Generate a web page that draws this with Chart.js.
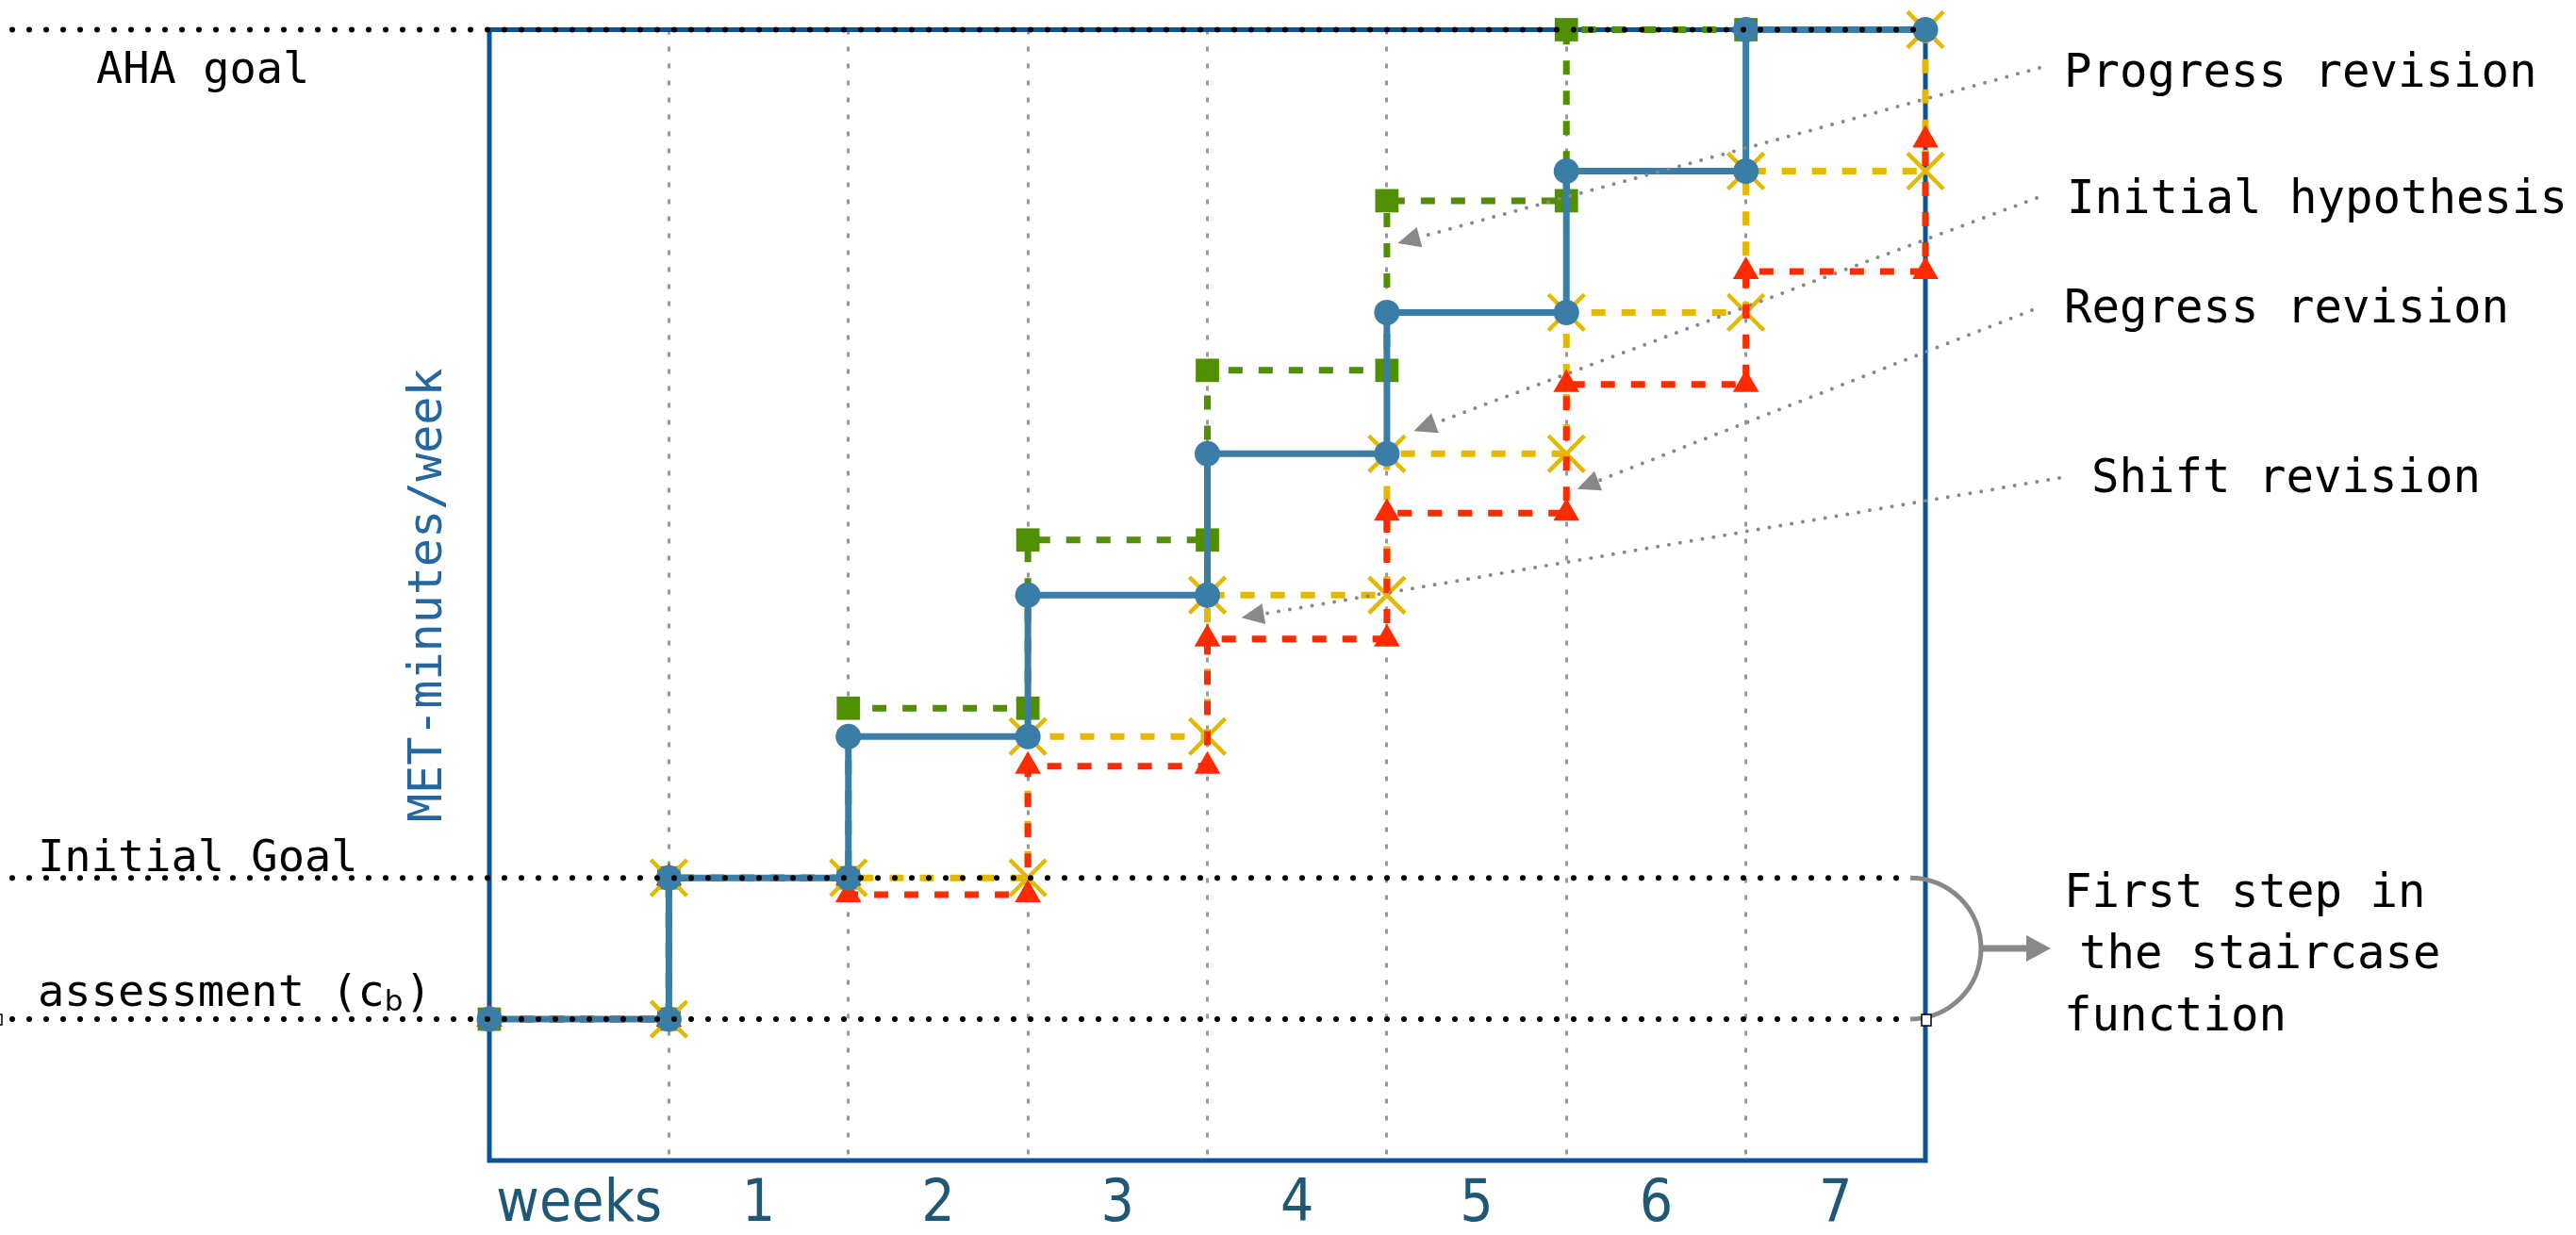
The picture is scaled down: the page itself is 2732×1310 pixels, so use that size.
<!DOCTYPE html>
<html>
<head>
<meta charset="utf-8">
<script src="https://cdn.jsdelivr.net/npm/chart.js@4.4.1/dist/chart.umd.min.js"></script>
<style>
  html, body { margin: 0; padding: 0; background: #fff; }
  canvas { display: block; }
</style>
</head>
<body>
<canvas id="stairChart" width="2732" height="1310"></canvas>
<script>
// x tick labels, one per week band
const weekLabels = ['weeks', '1', '2', '3', '4', '5', '6', '7'];

// step corners of each staircase (week, MET level)
const initialX = [0, 1, 1, 2, 2, 3, 3, 4, 4, 5, 5, 6, 6, 7, 7, 8];
const initialY = [1, 1, 2, 2, 3, 3, 4, 4, 5, 5, 6, 6, 7, 7, 8, 8];

const progressX = [0, 1, 1, 2, 2, 3, 3, 4, 4, 5, 5, 6, 6, 7];
const progressY = [1, 1, 2, 2, 3.2, 3.2, 4.39, 4.39, 5.59, 5.59, 6.79, 6.79, 8, 8];

const shiftX = [1, 1, 2, 3, 3, 4, 4, 5, 5, 6, 6, 7, 7, 8, 8];
const shiftY = [1, 2, 2, 2, 3, 3, 4, 4, 5, 5, 6, 6, 7, 7, 8];

const regressX = [0, 1, 1, 2, 2, 3, 3, 4, 4, 5, 5, 6, 6, 7, 7, 8, 8];
const regressY = [1, 1, 2, 2, 1.88, 1.88, 2.79, 2.79, 3.69, 3.69, 4.58, 4.58, 5.49, 5.49, 6.29, 6.29, 7.22];

// reference levels (dotted black lines) and their labels
const refLevels = [8, 2, 1];
const refLabels = ['AHA goal', 'Initial Goal', 'assessment (c'];

const yTitle = 'MET-minutes/week';
const calloutLabels = ['Progress revision', 'Initial hypothesis', 'Regress revision', 'Shift revision'];
const bracketLines = ['First step in', 'the staircase', 'function'];

const pts = (xs, ys) => xs.map((v, i) => ({ x: v, y: ys[i] }));

const MONO = '"DejaVu Sans Mono", monospace';

// arrow tips in data units, arrow tails / text anchors in px
const callouts = [
  { tip: [5.06, 6.49], tail: [2163, 72], text: [2189, 92] },
  { tip: [5.15, 5.16], tail: [2160, 210], text: [2192, 226] },
  { tip: [6.06, 4.75], tail: [2155, 329], text: [2189, 342] },
  { tip: [4.19, 3.84], tail: [2184, 507], text: [2218, 522] }
];

function arrowHead(ctx, x0, y0, x1, y1, len, half) {
  const ang = Math.atan2(y1 - y0, x1 - x0);
  ctx.beginPath();
  ctx.moveTo(x1, y1);
  ctx.lineTo(x1 - len * Math.cos(ang) + half * Math.sin(ang), y1 - len * Math.sin(ang) - half * Math.cos(ang));
  ctx.lineTo(x1 - len * Math.cos(ang) - half * Math.sin(ang), y1 - len * Math.sin(ang) + half * Math.cos(ang));
  ctx.closePath();
  ctx.fill();
}

const overlay = {
  id: 'overlay',
  beforeDatasetsDraw(chart) {
    const { ctx, chartArea: a } = chart;
    ctx.save();
    ctx.strokeStyle = '#0b5394';
    ctx.lineWidth = 5;
    ctx.strokeRect(a.left, a.top, a.right - a.left, a.bottom - a.top);
    ctx.restore();
  },
  afterDatasetsDraw(chart) {
    const { ctx, scales: { x, y } } = chart;
    const right = x.getPixelForValue(8);
    ctx.save();
    ctx.strokeStyle = '#000';
    ctx.lineWidth = 6;
    ctx.lineCap = 'round';
    ctx.setLineDash([0, 18]);
    refLevels.forEach((lv, i) => {
      const py = y.getPixelForValue(lv);
      ctx.beginPath();
      ctx.moveTo(13, py);
      ctx.lineTo(i === 0 ? right - 6 : right - 16, py);
      ctx.stroke();
    });
    ctx.restore();
  },
  afterDraw(chart) {
    const { ctx, scales: { x, y } } = chart;
    ctx.save();

    // left labels
    ctx.fillStyle = '#000';
    ctx.textBaseline = 'alphabetic';
    ctx.textAlign = 'left';
    ctx.font = '47px ' + MONO;
    ctx.fillText(refLabels[0], 102, y.getPixelForValue(refLevels[0]) + 56);
    ctx.fillText(refLabels[1], 40, y.getPixelForValue(refLevels[1]) - 7);
    const by = y.getPixelForValue(refLevels[2]) - 14;
    ctx.fillText(refLabels[2], 40, by);
    let bx = 40 + ctx.measureText(refLabels[2]).width;
    ctx.font = '31px "DejaVu Sans", sans-serif';
    ctx.fillText('b', bx, by + 5);
    bx += ctx.measureText('b').width + 2;
    ctx.font = '47px ' + MONO;
    ctx.fillText(')', bx, by);

    // callouts with dotted arrows
    ctx.font = '49px ' + MONO;
    ctx.fillStyle = '#000';
    callouts.forEach((c, i) => {
      ctx.fillText(calloutLabels[i], c.text[0], c.text[1]);
    });
    ctx.strokeStyle = '#888';
    ctx.fillStyle = '#888';
    callouts.forEach(c => {
      const tx = x.getPixelForValue(c.tip[0]);
      const ty = y.getPixelForValue(c.tip[1]);
      const [sx, sy] = c.tail;
      const ang = Math.atan2(ty - sy, tx - sx);
      ctx.save();
      ctx.lineWidth = 4;
      ctx.lineCap = 'round';
      ctx.setLineDash([0, 12]);
      ctx.beginPath();
      ctx.moveTo(sx, sy);
      ctx.lineTo(tx - 20 * Math.cos(ang), ty - 20 * Math.sin(ang));
      ctx.stroke();
      ctx.restore();
      arrowHead(ctx, sx, sy, tx, ty, 24, 11);
    });

    // bracket for the first step
    const cy = y.getPixelForValue(1.5);
    const r = (y.getPixelForValue(1) - y.getPixelForValue(2)) / 2;
    const cx = x.getPixelForValue(8) - 16;
    ctx.lineWidth = 5;
    ctx.beginPath();
    ctx.arc(cx, cy, r, -Math.PI / 2, Math.PI / 2);
    ctx.stroke();
    ctx.lineWidth = 7;
    ctx.beginPath();
    ctx.moveTo(cx + r, cy);
    ctx.lineTo(cx + r + 50, cy);
    ctx.stroke();
    arrowHead(ctx, cx + r, cy, cx + r + 74, cy, 26, 14);

    ctx.fillStyle = '#000';
    ctx.font = '49px ' + MONO;
    ctx.fillText(bracketLines[0], 2189, 962);
    ctx.fillText(bracketLines[1], 2205, 1027);
    ctx.fillText(bracketLines[2], 2189, 1093);

    // small handles seen in the original
    const hy = y.getPixelForValue(1);
    ctx.fillStyle = '#fff';
    ctx.strokeStyle = '#000';
    ctx.lineWidth = 1.5;
    ctx.fillRect(cx + 12, hy - 5, 10, 12);
    ctx.strokeRect(cx + 12, hy - 5, 10, 12);
    ctx.strokeRect(-4, hy - 5, 6, 11);
    ctx.restore();
  }
};

const halfSteps = Array.from({ length: 17 }, (_, i) => ({ value: i / 2 }));

new Chart(document.getElementById('stairChart'), {
  type: 'line',
  data: {
    datasets: [
      {
        label: 'Initial hypothesis',
        data: pts(initialX, initialY),
        borderColor: '#3a7da6',
        backgroundColor: '#3a7da6',
        borderWidth: 7,
        pointStyle: 'circle',
        pointRadius: 13.5,
        pointBorderWidth: 0,
        order: 0,
        clip: false
      },
      {
        label: 'Regress revision',
        data: pts(regressX, regressY),
        borderColor: '#ff2b00',
        backgroundColor: '#ff2b00',
        borderWidth: 7,
        borderDash: [15, 17],
        pointStyle: 'triangle',
        pointRadius: 16,
        pointBorderWidth: 0,
        order: 1,
        clip: false
      },
      {
        label: 'Shift revision',
        data: pts(shiftX, shiftY),
        borderColor: '#e4b800',
        backgroundColor: '#e4b800',
        borderWidth: 7,
        borderDash: [15, 17],
        pointStyle: 'crossRot',
        pointRadius: 27,
        pointBorderWidth: 4.5,
        pointBorderColor: '#e4b800',
        order: 2,
        clip: false
      },
      {
        label: 'Progress revision',
        data: pts(progressX, progressY),
        borderColor: '#4f8f00',
        backgroundColor: '#4f8f00',
        borderWidth: 7,
        borderDash: [15, 17],
        pointStyle: 'rect',
        pointRadius: 17.5,
        pointBorderWidth: 0,
        order: 3,
        clip: false
      }
    ]
  },
  options: {
    responsive: false,
    animation: false,
    layout: { padding: { left: 425, right: 690, top: 31, bottom: -17 } },
    plugins: { legend: { display: false }, tooltip: { enabled: false } },
    scales: {
      x: {
        type: 'linear',
        min: 0,
        max: 8,
        afterBuildTicks: scale => { scale.ticks = halfSteps.map(t => ({ value: t.value })); },
        ticks: {
          autoSkip: false,
          maxRotation: 0,
          minRotation: 0,
          padding: 17,
          color: '#1f5776',
          font: { family: '"DejaVu Sans Condensed", "Liberation Sans Narrow", "DejaVu Sans", sans-serif', size: 62, lineHeight: 1 },
          callback: v => Number.isInteger(v) ? '' : weekLabels[Math.floor(v)]
        },
        grid: {
          drawTicks: false,
          lineWidth: 3,
          color: c => (c.tick && Number.isInteger(c.tick.value) && c.tick.value > 0 && c.tick.value < 8) ? '#9a9a9a' : 'rgba(0,0,0,0)'
        },
        border: { display: false, dash: [5, 13] }
      },
      y: {
        min: 0,
        max: 8,
        ticks: { display: false },
        grid: { display: false, drawTicks: false },
        border: { display: false },
        title: {
          display: true,
          text: yTitle,
          color: '#2366a0',
          font: { family: MONO, size: 50, lineHeight: 1.2 },
          padding: { top: 0, bottom: 34 }
        }
      }
    }
  },
  plugins: [overlay]
});
</script>
</body>
</html>
